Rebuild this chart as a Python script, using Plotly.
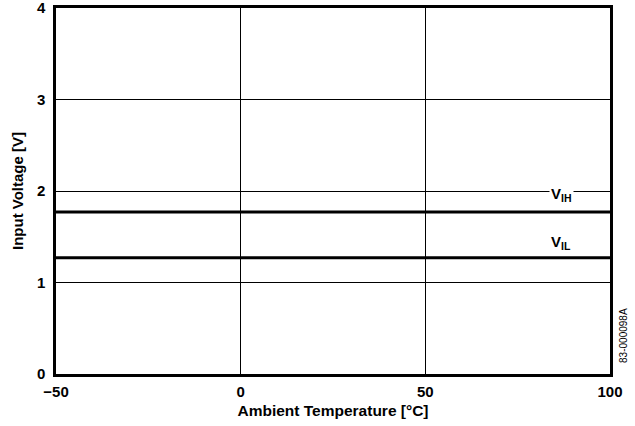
import plotly.graph_objects as go

temps = [-50, 100]
vih = [1.77, 1.77]
vil = [1.27, 1.27]
x_ticks = [-50, 0, 50, 100]
x_labels = ["\u221250", "0", "50", "100"]
y_ticks = [0, 1, 2, 3, 4]
y_labels = ["0", "1", "2", "3", "4"]

fig = go.Figure()
fig.add_trace(go.Scatter(x=temps, y=vih, mode="lines", line=dict(color="black", width=3), showlegend=False))
fig.add_trace(go.Scatter(x=temps, y=vil, mode="lines", line=dict(color="black", width=3), showlegend=False))

font = dict(family="Liberation Sans, Arial, sans-serif", color="black")

fig.update_layout(
    width=635, height=426,
    margin=dict(l=56, r=25, t=8, b=52, autoexpand=False),
    paper_bgcolor="white", plot_bgcolor="white",
    font=font,
    xaxis=dict(range=[-50, 100], tickvals=x_ticks, ticktext=["<b>%s</b>" % t for t in x_labels],
               showgrid=True, gridcolor="black", gridwidth=1.3, zeroline=False,
               showline=True, linecolor="black", linewidth=2.5, mirror=True, automargin=False,
               ticks="", tickfont=dict(size=15, **font), ticklabelstandoff=2, ticklabeloverflow="allow",
               title=dict(text="<b>Ambient Temperature [°C]</b>", font=dict(size=15.5, **font), standoff=7)),
    yaxis=dict(range=[0, 4], tickvals=y_ticks, ticktext=["<b>%s</b>" % t for t in y_labels],
               showgrid=True, gridcolor="black", gridwidth=1.3, zeroline=False,
               showline=True, linecolor="black", linewidth=2.5, mirror=True, automargin=False,
               ticks="", tickfont=dict(size=15, **font), ticklabelstandoff=5, ticklabeloverflow="allow",
               title=dict(text="<b>Input Voltage [V]</b>", font=dict(size=15, **font), standoff=10)),
)

fig.add_annotation(x=86.8, y=1.96, text="<b>V<sub>IH</sub></b>", showarrow=False,
                   bgcolor="white", font=dict(size=15, **font), xref="x", yref="y")
fig.add_annotation(x=86.8, y=1.44, text="<b>V<sub>IL</sub></b>", showarrow=False,
                   font=dict(size=15, **font), xref="x", yref="y")
fig.add_annotation(x=1.011, y=0.025, xref="paper", yref="paper", text="83-000098A", textangle=-90,
                   showarrow=False, font=dict(size=10, **font), xanchor="left", yanchor="bottom")

fig.write_html("out.html", config={"displayModeBar": False},
               post_script="document.body.style.margin='0';document.body.style.overflow='hidden';")
